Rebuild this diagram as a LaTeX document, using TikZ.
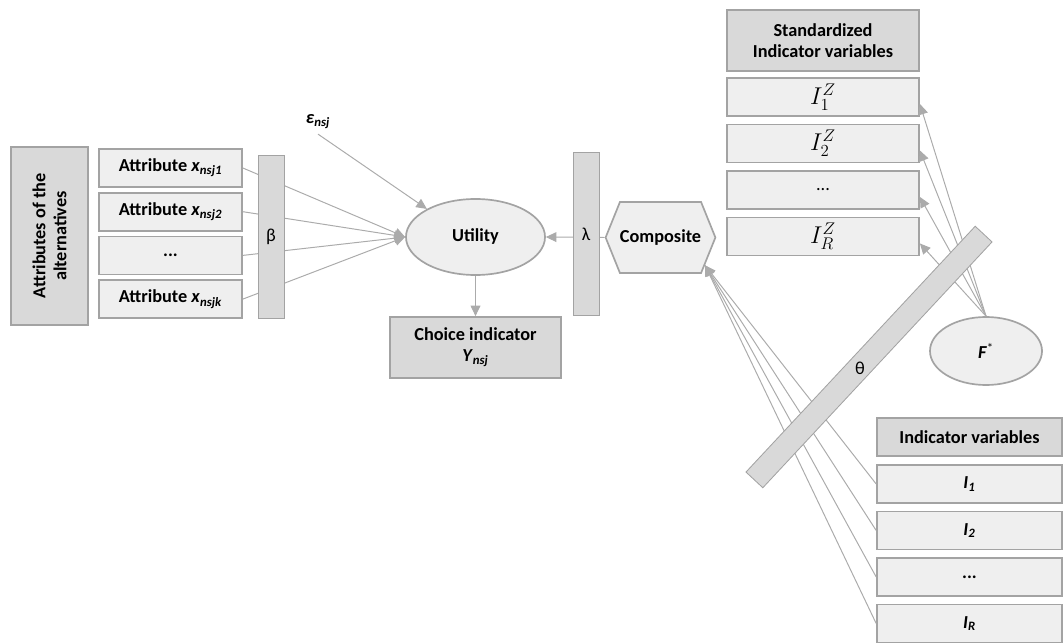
\documentclass[tikz,border=0pt]{standalone}
\usepackage{fontspec}
\setmainfont{Carlito}
\usepackage{tikz}
\usetikzlibrary{arrows.meta,positioning,shapes.geometric,shapes.symbols}
\definecolor{edge}{HTML}{A3A3A3}
\definecolor{wire}{HTML}{ABABAB}
\definecolor{pale}{HTML}{EFEFEF}
\definecolor{shade}{HTML}{D9D9D9}
\newcommand{\vbi}[1]{\textbf{\textit{#1}}}
\newcommand{\vbsub}[2]{\vbi{#1}\textsubscript{\vbi{#2}}}

\begin{document}
\begin{tikzpicture}[
  x=0.025cm,y=-0.025cm,
  font=\fontsize{13}{15}\selectfont,
  box/.style={draw=edge,fill=pale,line width=1.2pt,inner sep=0pt,
              minimum height=0.95cm,font=\fontsize{13}{15}\selectfont\bfseries},
  head/.style={box,fill=shade,align=center},
  bar/.style={fill=shade,draw=edge,line width=0.6pt,inner sep=0pt,
              minimum width=0.65cm,minimum height=4.075cm},
  latent/.style={ellipse,draw=edge,fill=pale,line width=1.2pt,inner sep=0pt},
  link/.style={draw=wire,line width=0.7pt,-{Triangle[length=7.5pt,width=7pt]}},
  plain/.style={draw=wire,line width=0.7pt},
  mathbig/.style={font=\fontsize{18}{20}\selectfont}]
\useasboundingbox (0,0) rectangle (1063,643);

% left block
\node[head,rotate=90,minimum width=4.45cm,minimum height=1.925cm] (alts) at (49.5,236)
  {Attributes of the\\alternatives};
\node[box,minimum width=3.575cm] (attr1) at (170.5,168) {Attribute \vbsub{x}{nsj1}};
\node[box,minimum width=3.575cm,below=0.1cm of attr1] (attr2) {Attribute \vbsub{x}{nsj2}};
\node[box,minimum width=3.575cm,below=0.1cm of attr2] (attr3) {...};
\node[box,minimum width=3.575cm,below=0.1cm of attr3] (attr4) {Attribute \vbsub{x}{nsjk}};

% utility, error and choice
\node[latent,minimum width=3.475cm,minimum height=1.9cm,font=\fontsize{13}{15}\selectfont\bfseries]
  (util) at (475.5,237) {Utility};
\node (eps) at (318,122) {\vbsub{ε}{nsj}};
\node[head,minimum width=4.275cm,minimum height=1.525cm] (choice) at (475.5,347.5)
  {Choice indicator\\\vbsub{Y}{nsj}};

% composite
\node[signal,signal to=east and west,signal pointer angle=136,draw=edge,fill=pale,
      line width=1.2pt,inner sep=0pt,minimum width=2.575cm,minimum height=1.775cm,
      font=\fontsize{13}{15}\selectfont\bfseries] (comp) at (660.5,237.5) {Composite};

% standardized indicators
\node[head,minimum width=4.8cm,minimum height=1.525cm] (zhead) at (823,40.5)
  {Standardized\\Indicator variables};
\node[box,minimum width=4.8cm,below=0.13cm of zhead,mathbig] (iz1) {$I_1^Z$};
\node[box,minimum width=4.8cm,below=0.17cm of iz1,mathbig] (iz2) {$I_2^Z$};
\node[box,minimum width=4.8cm,below=0.17cm of iz2,font=\fontsize{13}{15}\selectfont] (iz3) {...};
\node[box,minimum width=4.8cm,below=0.17cm of iz3,mathbig] (iz4) {$I_R^Z$};
\node[latent,minimum width=2.8cm,minimum height=1.7cm] (fstar) at (986,351)
  {\vbi{F}\textsuperscript{*}};

% indicators
\node[head,minimum width=4.625cm] (ihead) at (969.5,437) {Indicator variables};
\node[box,minimum width=4.625cm,below=0.18cm of ihead] (ind1) {\vbsub{I}{1}};
\node[box,minimum width=4.625cm,below=0.17cm of ind1] (ind2) {\vbsub{I}{2}};
\node[box,minimum width=4.625cm,below=0.17cm of ind2] (ind3) {...};
\node[box,minimum width=4.625cm,below=0.17cm of ind3] (ind4) {\vbsub{I}{R}};

% paths
\foreach \n in {attr1,attr2,attr3,attr4}
  \draw[link] (\n.east) -- (util.west);
\draw[link] (eps.south) -- (util.150);
\draw[link] (util.south) -- (choice.north);
\draw[link] (comp.west) -- (util.east);
\foreach \n in {ind1,ind2,ind3,ind4}
  \draw[link] (\n.west) -- (comp.-32);
\foreach \n in {iz1,iz2,iz3,iz4}
  \draw[link] (fstar.north) -- ([yshift=-5pt]\n.east);

% weight bars on top
\node[bar] (beta) at (271,236.5) {β};
\node[bar] (lambda) at (586,234) {λ};
\node[bar,rotate=47,minimum width=8.4cm,minimum height=0.575cm] (theta) at (869,357) {};
\node (thetalab) at (860,368) {θ};
\end{tikzpicture}
\end{document}
